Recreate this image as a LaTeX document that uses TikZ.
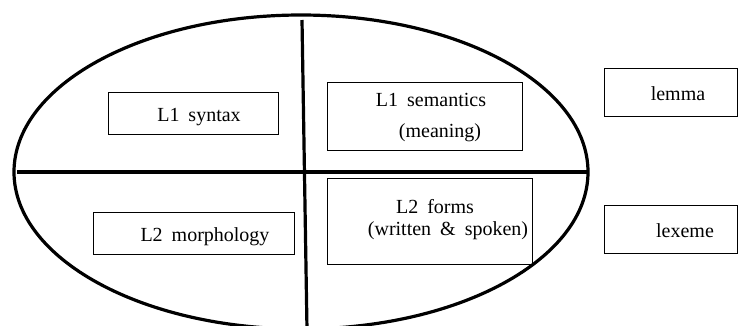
\documentclass[tikz,border=0pt]{standalone}
\usepackage{fontspec}
\setmainfont{Liberation Serif}
\newcommand\wsp{\hspace{0.45em}}
\begin{document}
\begin{tikzpicture}[x=1pt,y=-1pt,
  box/.style={draw, line width=1pt, inner sep=0pt},
  thick line/.style={line width=3.2pt},
  lbl/.style={inner sep=0pt, anchor=base, font=\fontsize{20}{22}\selectfont}]
\useasboundingbox (0,0) rectangle (738,325);
\clip (0,0) rectangle (738,325);
\fill[white] (0,0) rectangle (738,325);
% ellipse and dividers
\draw[thick line] (301,172) ellipse [x radius=287, y radius=157];
\coordinate (hl) at (17,172);
\coordinate (hr) at (588,172);
\coordinate (vt) at (302,20);
\coordinate (vb) at (307,330);
\draw[thick line] (hl) -- (hr);
\draw[thick line] (vt) -- (vb);
% boxes
\node[box, minimum width=170, minimum height=42] (syn) at (193,113) {};
\node[box, minimum width=195, minimum height=68] (sem) at (424.5,116) {};
\node[box, minimum width=205, minimum height=86] (forms) at (429.5,221) {};
\node[box, minimum width=201, minimum height=42] (morph) at (193.5,233) {};
\node[box, minimum width=133, minimum height=48] (lemma) at (670.5,92) {};
\node[box, minimum width=133, minimum height=48] (lexeme) at (670.5,229) {};
% labels
\node[lbl] (tsyn) at (199,121) {L1\wsp syntax};
\node[lbl] (tmorph) at (205,241) {L2\wsp morphology};
\node[lbl] (tsem1) at (431,106) {L1\wsp semantics};
\node[lbl] (tsem2) at (440,137) {(meaning)};
\node[lbl] (tfor1) at (435,213) {L2\wsp forms};
\node[lbl] (tfor2) at (448,235) {(written\wsp \&\wsp spoken)};
\node[lbl] (tlem) at (678,100) {lemma};
\node[lbl] (tlex) at (685,237) {lexeme};
\end{tikzpicture}
\end{document}
